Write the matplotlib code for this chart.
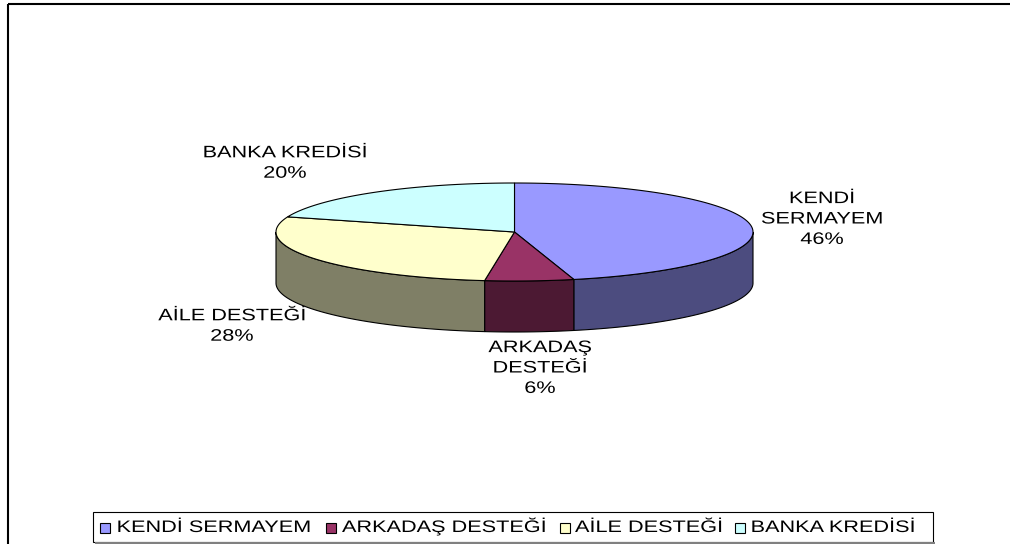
import numpy as np  # sayısal işlemler
import matplotlib
matplotlib.use("Agg")
import matplotlib.pyplot as plt
import matplotlib.patheffects as pe
from matplotlib.patches import Polygon, Rectangle
from matplotlib.transforms import Affine2D

# Veriler
kategoriler = ["KENDİ SERMAYEM", "ARKADAŞ DESTEĞİ", "AİLE DESTEĞİ", "BANKA KREDİSİ"]
etiketler = ["KENDİ\nSERMAYEM", "ARKADAŞ\nDESTEĞİ", "AİLE DESTEĞİ", "BANKA KREDİSİ"]
yuzdeler = [46, 6, 28, 20]
ust_renkler = ["#9999FF", "#993366", "#FFFFCC", "#CCFFFF"]
yan_renkler = ["#4C4C7F", "#4C1933", "#7F7F66", "#667F7F"]

# Yerleşim (piksel cinsinden)
cx, cy = 514.5, 232.0  # pastanın merkezi
rx, ry = 238.5, 49.0  # elips yarıçapları
derinlik = 51.0  # 3B kalınlık
etiket_yerleri = [(822, 219), (540, 368), (232, 326), (285, 163)]
lejant_kare_x = [100, 326, 560, 735]
lejant_yazi_x = [117, 342, 575, 751]

YAZI = "Liberation Sans"
BOYUT = 12
GERME = 1.3


class YatayGerme(pe.AbstractPathEffect):
    """Excel çıktısındaki gibi yazıyı yatayda gerer."""

    def __init__(self, sx, anchor="center"):
        super().__init__()
        self.sx = sx
        self.anchor = anchor

    def draw_path(self, renderer, gc, tpath, affine, rgbFace=None):
        box = tpath.get_extents(affine)
        x0 = box.x0 if self.anchor == "left" else (box.x0 + box.x1) / 2
        affine = affine + Affine2D().translate(-x0, 0).scale(self.sx, 1).translate(x0, 0)
        renderer.draw_path(gc, tpath, affine, rgbFace)


def elips(a, dy=0.0):
    # a: tepeden saat yönünde derece
    r = np.radians(a)
    return cx + rx * np.sin(r), cy - ry * np.cos(r) + dy


fig = plt.figure(figsize=(10.1, 5.44), dpi=100)
ax = fig.add_axes([0, 0, 1, 1])
ax.set_xlim(0, 1010)
ax.set_ylim(544, 0)
ax.axis("off")

# dilim sınırları (derece)
sinirlar = np.concatenate([[0], np.cumsum(yuzdeler)]) / sum(yuzdeler) * 360

# önce yan yüzler (sadece ön yarı görünür: 90-270 derece)
for i in range(len(yuzdeler)):
    lo, hi = max(sinirlar[i], 90), min(sinirlar[i + 1], 270)
    if hi <= lo:
        continue
    a = np.linspace(lo, hi, 150)
    x, y = elips(a)
    xs = np.concatenate([x, x[::-1]])
    ys = np.concatenate([y, y[::-1] + derinlik])
    ax.add_patch(Polygon(np.column_stack([xs, ys]), closed=True,
                         facecolor=yan_renkler[i], edgecolor="black", lw=0.8))

# üst yüzler
for i in range(len(yuzdeler)):
    a = np.linspace(sinirlar[i], sinirlar[i + 1], 200)
    x, y = elips(a)
    pts = np.vstack([[cx, cy], np.column_stack([x, y])])
    ax.add_patch(Polygon(pts, closed=True, facecolor=ust_renkler[i],
                         edgecolor="black", lw=0.8))

# veri etiketleri
for (ex, ey), et, yz in zip(etiket_yerleri, etiketler, yuzdeler):
    ax.text(ex, ey, f"{et}\n{yz}%", ha="center", va="center", ma="center",
            family=YAZI, fontsize=BOYUT, linespacing=1.45,
            path_effects=[YatayGerme(GERME)])

# lejant kutusu
ax.plot([95, 935], [543, 543], color="#808080", lw=1.5, solid_capstyle="butt")
ax.add_patch(Rectangle((93, 512), 840, 30, facecolor="white", edgecolor="black", lw=0.8))
for kx, tx, ad, renk in zip(lejant_kare_x, lejant_yazi_x, kategoriler, ust_renkler):
    ax.add_patch(Rectangle((kx, 523), 10, 10, facecolor=renk, edgecolor="black", lw=0.8))
    ax.text(tx, 532, ad, ha="left", va="baseline", family=YAZI, fontsize=BOYUT,
            path_effects=[YatayGerme(GERME, "left")])

# çerçeve (sol ve üst)
ax.plot([8, 1010], [4, 4], color="black", lw=1.5, solid_capstyle="butt")
ax.plot([8, 8], [4, 544], color="black", lw=1.5, solid_capstyle="butt")

fig.savefig("out.png", dpi=100)
